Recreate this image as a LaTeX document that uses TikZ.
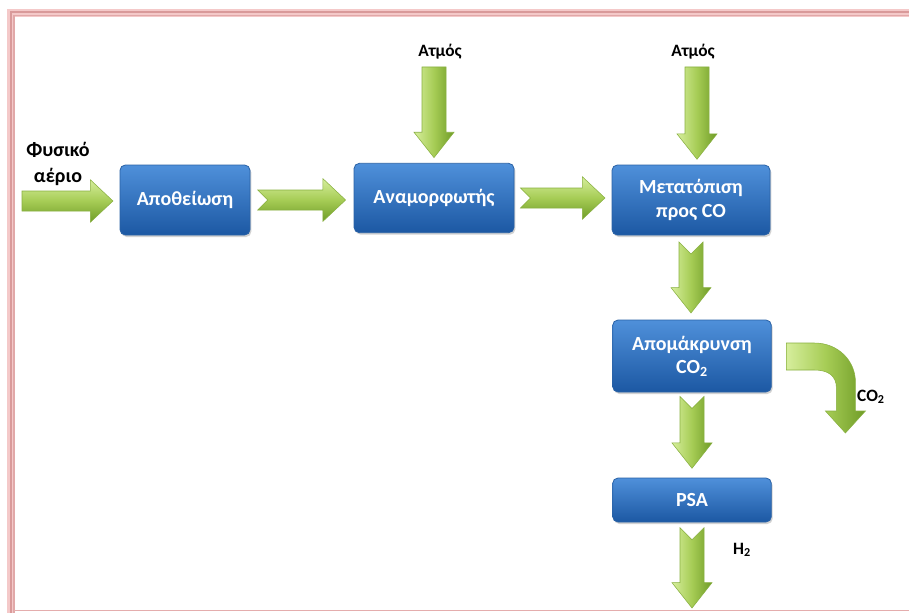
\documentclass[tikz,border=0pt]{standalone}
\usepackage{fontspec}
\setmainfont{Carlito}
\usetikzlibrary{calc,shadows}
\definecolor{gl}{HTML}{D6EE9C}
\definecolor{gm}{HTML}{A6CC55}
\definecolor{gd}{HTML}{6F9C27}
\definecolor{gline}{HTML}{88B040}
\definecolor{btop}{HTML}{4F90DA}
\definecolor{bbot}{HTML}{1C58A3}
\definecolor{bline}{HTML}{2A62A6}
\definecolor{pinkl}{HTML}{F4C9C9}
\definecolor{pinkd}{HTML}{D99A9A}
\tikzset{
  procbox/.style={rectangle, rounded corners=4pt, draw=bline, line width=0.6pt,
    top color=btop, bottom color=bbot, text=white, font=\bfseries\fontsize{15}{17.5}\selectfont,
    align=center, inner sep=2pt,
    drop shadow={shadow xshift=1pt, shadow yshift=-1.5pt, opacity=0.35}},
  lbl/.style={font=\bfseries\fontsize{13}{15}\selectfont, text=black, align=center, inner sep=1pt},
  biglbl/.style={lbl, font=\bfseries\fontsize{15}{19}\selectfont},
  garrowh/.style={draw=gline, line width=0.4pt, top color=gl, bottom color=gd, middle color=gm},
  garrowv/.style={draw=gline, line width=0.4pt, left color=gl, right color=gd, middle color=gm},
}
% horizontal fat arrow: tail, tip, notch depth
\newcommand\harrow[3]{%
  \path[garrowh] let \p1=(#1), \p2=(#2) in
   (\x1,\y1+7.5pt) -- (\x2-17pt,\y1+7.5pt) -- (\x2-17pt,\y1+16pt) -- (\x2,\y1)
   -- (\x2-17pt,\y1-16pt) -- (\x2-17pt,\y1-7.5pt) -- (\x1,\y1-7.5pt) -- (\x1+#3,\y1) -- cycle;}
% vertical fat arrow: tail (top), tip (only y used), notch depth
\newcommand\varrow[3]{%
  \path[garrowv] let \p1=(#1), \p2=(#2) in
   (\x1-9pt,\y1) -- (\x1,\y1-#3) -- (\x1+9pt,\y1) -- (\x1+9pt,\y2+19pt) -- (\x1+15pt,\y2+19pt)
   -- (\x1,\y2) -- (\x1-15pt,\y2+19pt) -- (\x1-9pt,\y2+19pt) -- cycle;}
\begin{document}
\begin{tikzpicture}[x=0.75pt,y=-0.75pt]
\useasboundingbox (0,0) rectangle (909,613);
% frame
\fill[pinkl] (7,9) rectangle (909,17);
\fill[pinkl] (7,9) rectangle (15,613);
\fill[pinkd] (9.5,11) rectangle (909,13.3);
\fill[pinkd] (9.5,11) rectangle (11.8,613);
\fill[pinkd!70!pinkl] (13.3,15) rectangle (909,16.5);
\fill[pinkd!70!pinkl] (13.3,15) rectangle (14.8,613);
\fill[pinkd!60!pinkl] (14,609.5) rectangle (909,611);
\fill[white] (15,17) rectangle (909,609.5);

% process boxes
\node[procbox, minimum width=97.5pt, minimum height=52.5pt] (b1) at (185,200) {Αποθείωση};
\node[procbox, minimum width=120pt, minimum height=52pt] (b2) at (434,198) {Αναμορφωτής};
\node[procbox, minimum width=118.5pt, minimum height=52.5pt] (b3) at (691,200) {Μετατόπιση\\προς CO};
\node[procbox, minimum width=119pt, minimum height=54pt] (b4) at (692,356) {Απομάκρυνση\\CO\textsubscript{2}};
\node[procbox, minimum width=119pt, minimum height=33pt] (psa) at (692,500) {PSA};

% labels
\node[biglbl] (gas) at (58,164) {Φυσικό\\αέριο};
\node[lbl] (atm1) at (440,52) {Ατμός};
\node[lbl] (atm2) at (693,52) {Ατμός};
\node[lbl] (co2) at (871,397) {CO\textsubscript{2}};
\node[lbl] (h2) at (742,550) {H\textsubscript{2}};

% free ends
\coordinate (gasin) at (22,201);
\coordinate (s1) at (434,67);
\coordinate (s2) at (697,67);
\coordinate (h2end) at (692,608);

% horizontal arrows
\harrow{gasin}{[xshift=-5pt]b1.west}{0pt}
\harrow{[xshift=5.5pt]b1.east}{[xshift=-6pt]b2.west}{7.5pt}
\harrow{[xshift=4.5pt]b2.east}{[xshift=-5pt]b3.west}{7.5pt}

% vertical arrows
\varrow{s1}{[yshift=4pt]b2.north}{0pt}
\varrow{s2}{[yshift=4pt]b3.north}{0pt}
\varrow{[yshift=-5pt]b3.south}{[yshift=5pt]b4.north}{9pt}
\varrow{[yshift=-3pt]b4.south}{[yshift=7pt]psa.north}{9pt}
\varrow{[yshift=-4pt]psa.south}{h2end}{9pt}

% curved CO2 arrow
\coordinate (co2s) at ([xshift=11pt]b4.east);
\path[draw=gline, line width=0.4pt, left color=gl, right color=gd, middle color=gm, shift={(co2s)}]
  (0,-13) -- (28,-13) .. controls (52,-13) and (69,5) .. (69,26) -- (69,55)
  -- (79,55) -- (59,77) -- (39,55) -- (50,55) -- (50,32)
  .. controls (50,20) and (42,14) .. (28,14) -- (0,14) -- cycle;
\end{tikzpicture}
\end{document}
